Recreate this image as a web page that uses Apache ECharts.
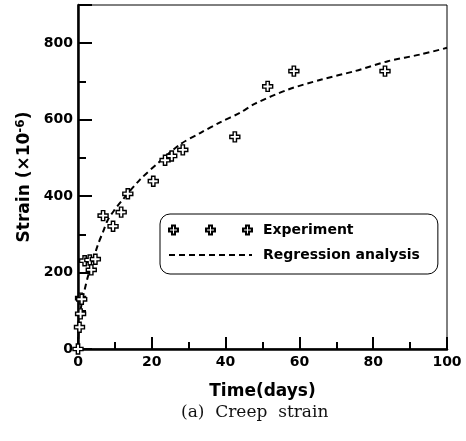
<!DOCTYPE html>
<html>
<head>
<meta charset="utf-8">
<script src="https://cdn.jsdelivr.net/npm/echarts@6/dist/echarts.min.js"></script>
<style>
  html, body { margin: 0; padding: 0; background: #fff; }
  #chart { width: 466px; height: 441px; }
</style>
</head>
<body>
<div id="chart"></div>
<script>
// experiment points (days, strain x10^-6)
var expTime   = [0, 0.4, 0.7, 0.7, 1.0, 1.8, 3.2, 4.7, 3.6, 6.8, 9.5, 11.7, 13.5, 20.4, 23.6, 25.4, 28.4, 42.5, 51.4, 58.5, 83.2];
var expStrain = [0, 57, 92, 133, 130, 231, 233, 235, 207, 349, 321, 358, 406, 439, 494, 505, 521, 555, 687, 727, 727];

// regression curve
var fitTime   = [0, 0.3, 1, 1.8, 2.7, 4.1, 5.4, 6.8, 8.1, 9.9, 11.7, 16.8, 22.2, 27.6, 33.1, 38.5, 43.9, 48, 57, 66, 75, 84, 93, 100];
var fitStrain = [0, 70, 120, 155, 190, 233, 273, 307, 338, 364, 386, 443, 491, 535, 565, 593, 618, 642, 679, 705, 727, 753, 771, 788];

var xTicks = [0, 20, 40, 60, 80, 100];
var yTicks = [0, 200, 400, 600, 800];

var plus = 'path://M3,0 H6 V3 H9 V6 H6 V9 H3 V6 H0 V3 H3 Z';
var plus3 = 'path://M3,0 H6 V3 H9 V6 H6 V9 H3 V6 H0 V3 H3 Z M40,0 H43 V3 H46 V6 H43 V9 H40 V6 H37 V3 H40 Z M77,0 H80 V3 H83 V6 H80 V9 H77 V6 H74 V3 H77 Z';

var sans = 'DejaVu Sans';

var chart = echarts.init(document.getElementById('chart'));
chart.setOption({
  animation: false,
  backgroundColor: '#fff',
  title: {
    text: '(a)  Creep  strain',
    left: 176,
    top: 399,
    textStyle: { fontFamily: 'DejaVu Serif', fontWeight: 'normal', fontSize: 17, color: '#111' }
  },
  grid: {
    left: 78, right: 19, top: 5, bottom: 92,
    show: true, borderColor: '#000', borderWidth: 1
  },
  legend: {
    left: 160, top: 214,
    orient: 'vertical',
    itemWidth: 83, itemHeight: 9,
    itemGap: 11,
    padding: [9, 18, 12, 8],
    borderColor: '#000', borderWidth: 1, borderRadius: 10,
    textStyle: { fontFamily: sans, fontWeight: 'bold', fontSize: 14, color: '#000', padding: [0, 0, 0, 6] },
    data: [
      { name: 'Experiment', icon: plus3 },
      { name: 'Regression analysis', itemStyle: { opacity: 0 } }
    ]
  },
  xAxis: {
    type: 'value', min: 0, max: 100, interval: 20,
    name: 'Time(days)', nameLocation: 'middle', nameGap: 34,
    nameTextStyle: { fontFamily: sans, fontWeight: 'bold', fontSize: 17, color: '#000' },
    axisLine: { lineStyle: { color: '#000', width: 2.5 } },
    axisTick: { inside: true, length: 12, lineStyle: { color: '#000', width: 2 } },
    minorTick: { show: true, splitNumber: 2, length: 7, lineStyle: { color: '#000', width: 2 } },
    splitLine: { show: false },
    axisLabel: {
      margin: 6, fontFamily: sans, fontWeight: 'bold', fontSize: 14, color: '#000',
      formatter: function (v) { return xTicks.indexOf(v) >= 0 ? String(v) : ''; }
    }
  },
  yAxis: [{
    type: 'value', min: 0, max: 900, interval: 100,
    name: 'Strain (×10{sup|-6})', nameLocation: 'middle', nameGap: 42,
    nameTextStyle: {
      fontFamily: sans, fontWeight: 'bold', fontSize: 17, color: '#000',
      rich: { sup: { fontFamily: sans, fontWeight: 'bold', fontSize: 12, color: '#000', padding: [0, 0, 8, 0] } }
    },
    axisLine: { lineStyle: { color: '#000', width: 2.5 } },
    axisTick: { inside: true, length: 8, lineStyle: { color: '#000', width: 2 } },
    splitLine: { show: false },
    axisLabel: {
      margin: 5, fontFamily: sans, fontWeight: 'bold', fontSize: 14, color: '#000',
      formatter: function (v) { return yTicks.indexOf(v) >= 0 ? String(v) : ''; }
    }
  }, {
    type: 'value', min: 0, max: 900, interval: 200, position: 'left',
    axisLine: { show: false },
    axisTick: { inside: true, length: 14, lineStyle: { color: '#000', width: 2 } },
    axisLabel: { show: false },
    splitLine: { show: false }
  }],
  series: [{
    name: 'Regression analysis',
    type: 'line',
    smooth: 0.3,
    symbol: 'none',
    z: 2,
    lineStyle: { color: '#000', width: 2, type: [6, 4] },
    itemStyle: { color: '#000' },
    data: fitTime.map(function (t, i) { return [t, fitStrain[i]]; })
  }, {
    name: 'Experiment',
    type: 'scatter',
    symbol: plus,
    symbolSize: 10,
    z: 3,
    itemStyle: { color: '#fff', borderColor: '#000', borderWidth: 1.4, opacity: 1 },
    data: expTime.map(function (t, i) { return [t, expStrain[i]]; })
  }]
});
</script>
</body>
</html>
